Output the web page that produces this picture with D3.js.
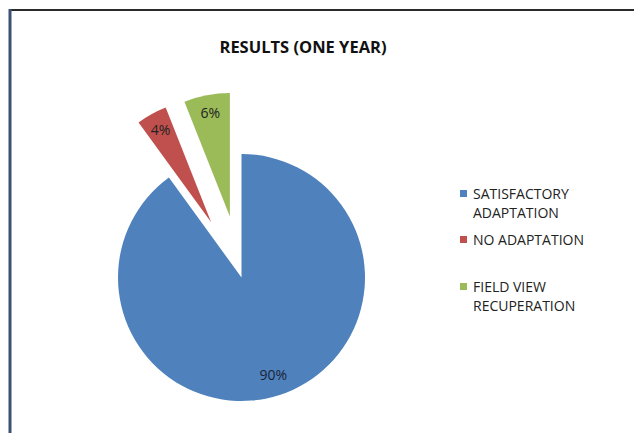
<!DOCTYPE html>
<html><head><meta charset="utf-8">
<script src="https://cdn.jsdelivr.net/npm/d3@7"></script>
<style>body{margin:0;background:#fff}svg{display:block}</style>
</head><body>
<svg id="c" width="634" height="433"></svg>
<script>
const categories = ["SATISFACTORY ADAPTATION", "NO ADAPTATION", "FIELD VIEW RECUPERATION"];
const legendLines = [["SATISFACTORY", "ADAPTATION"], ["NO ADAPTATION"], ["FIELD VIEW", "RECUPERATION"]];
const values = [90, 4, 6];
const labels = ["90%", "4%", "6%"];
const explode = [0, 63, 62];
const colors = ["#4F81BD", "#C0504D", "#9BBB59"];
const title = "RESULTS (ONE YEAR)";

const svg = d3.select("#c");
const font = "'Open Sans', 'Liberation Sans', sans-serif";

// frame
svg.append("line").attr("x1", 9).attr("x2", 634).attr("y1", 10).attr("y2", 10)
  .attr("stroke", "#2b2b2b").attr("stroke-width", 2);
svg.append("line").attr("x1", 10).attr("x2", 10).attr("y1", 9).attr("y2", 433)
  .attr("stroke", "#3b5275").attr("stroke-width", 3);

svg.append("text").attr("x", 303).attr("y", 53).attr("text-anchor", "middle")
  .attr("font-family", font).attr("font-weight", "bold").attr("font-size", 16.5)
  .attr("fill", "#111").text(title);

const cx = 241.5, cy = 277.5, r = 123.5;
const pie = d3.pie().sort(null).value(d => d)(values);
const arc = d3.arc().innerRadius(0).outerRadius(r);
const g = svg.append("g").attr("transform", `translate(${cx},${cy})`);

pie.forEach((p, i) => {
  const mid = (p.startAngle + p.endAngle) / 2;
  const dx = Math.sin(mid) * explode[i], dy = -Math.cos(mid) * explode[i];
  const sg = g.append("g").attr("transform", `translate(${dx},${dy})`);
  sg.append("path").attr("d", arc(p)).attr("fill", colors[i]);
  const lr = i === 0 ? r * 0.83 : r * 0.85;
  const lx = Math.sin(mid) * lr, ly = -Math.cos(mid) * lr;
  sg.append("text").attr("x", lx).attr("y", ly).attr("dy", "0.35em")
    .attr("text-anchor", "middle").attr("font-family", font).attr("font-size", 14)
    .attr("fill", i === 0 ? "#1b2436" : "#222").text(labels[i]);
});

// legend
const legY = [194, 240, 287];
const lg = svg.append("g");
categories.forEach((c, i) => {
  lg.append("rect").attr("x", 460).attr("y", legY[i] - 4).attr("width", 7).attr("height", 7)
    .attr("fill", colors[i]);
  legendLines[i].forEach((t, j) => {
    lg.append("text").attr("x", 473).attr("y", legY[i] + j * 19).attr("dy", "0.35em")
      .attr("font-family", font).attr("font-size", 14).attr("fill", "#222").text(t);
  });
});
</script>
</body></html>
